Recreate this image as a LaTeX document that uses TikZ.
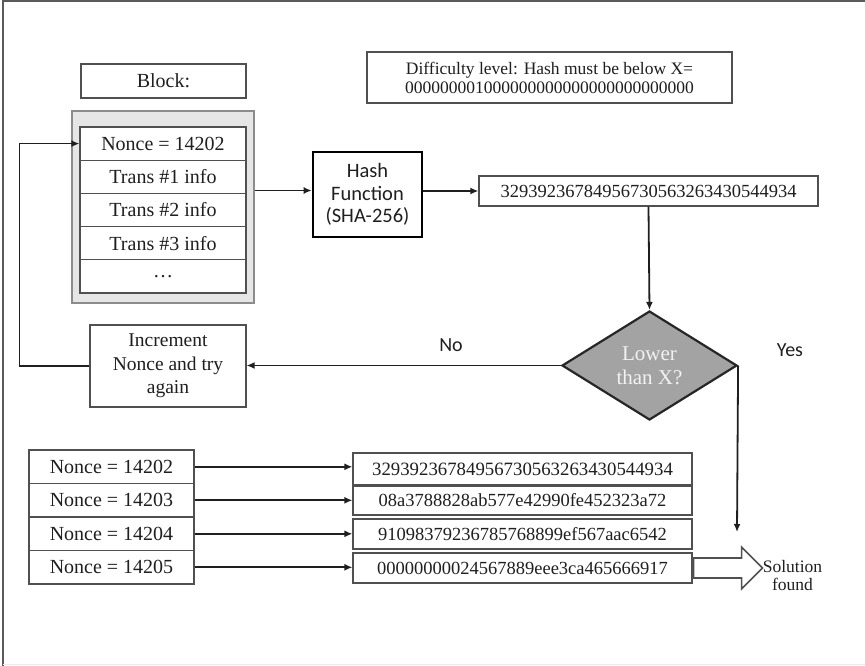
\documentclass[tikz,border=0pt]{standalone}
\usepackage{fontspec}
\setmainfont{Liberation Serif}
\newfontfamily\calibri{Carlito}
\usetikzlibrary{shapes.geometric,arrows.meta}
\definecolor{boxline}{HTML}{505050}
\definecolor{inktext}{HTML}{1F1F1F}
\definecolor{blockfill}{HTML}{E6E6E6}
\definecolor{blockline}{HTML}{8C8C8C}
\definecolor{testfill}{HTML}{A3A3A3}
\definecolor{testtext}{HTML}{F2F2F2}
\definecolor{framedark}{HTML}{5A5A5A}
\tikzset{
	box/.style={draw=boxline, line width=1.2pt, fill=white, inner sep=0pt, text=inktext},
	cell/.style={box, minimum width=166pt, minimum height=33.2pt},
	noncebox/.style={box, minimum width=165pt, minimum height=33.5pt},
	hashbox/.style={box, minimum width=339pt, minimum height=30pt, font=\fontsize{18.5pt}{22pt}\selectfont},
	flow/.style={draw=inktext, line width=1.8pt, -{Latex[length=8pt,width=7pt]}},
	note/.style={inner sep=0pt, text=inktext},
}

\begin{document}
\begin{tikzpicture}[x=1pt, y=-1pt, font=\fontsize{20pt}{24pt}\selectfont]
		\useasboundingbox (0,0) rectangle (865,666);
		\draw [draw=framedark, line width=2pt] (3,666) -- (3,1.5) -- (865,1.5);
		\draw [draw=black!8, line width=0.8pt] (3,664.5) -- (865,664.5);
		
		\node[box, minimum width=165pt, minimum height=34pt] (blocktitle) at (163.5,81) {Block:};
		\node[box, minimum width=365pt, minimum height=51pt, align=center, font=\fontsize{17.5pt}{19pt}\selectfont] (difficulty) at (549.5,77.5) {Difficulty level: Hash must be below X=\\000000001000000000000000000000000};
		
		\node[draw=blockline, line width=1.2pt, fill=blockfill, minimum width=182pt, minimum height=192pt, inner sep=0pt] (blockframe) at (163,207) {};
		\node[cell] (cell1) at (163,143.6) {Nonce = 14202};
		\node[cell] (cell2) at (163,176.8) {Trans \#1 info};
		\node[cell] (cell3) at (163,210.0) {Trans \#2 info};
		\node[cell] (cell4) at (163,243.2) {Trans \#3 info};
		\node[cell] (cell5) at (163,276.4) {\ldots};
		
		\node[box, draw=black, line width=2.6pt, minimum width=109pt, minimum height=85pt, align=center, font=\calibri\fontsize{20.5pt}{22.5pt}\selectfont] (hashfn) at (367.5,194.5) {Hash\\Function\\(SHA-256)};
		\node[hashbox] (hashout) at (648.5,191) {32939236784956730563263430544934};
		
		\node[diamond, aspect=1.6, draw=black!85, line width=2.2pt, fill=testfill, text=testtext, minimum width=175pt, minimum height=109pt, inner sep=0pt, align=center, font=\fontsize{21pt}{24pt}\selectfont] (test) at (649.5,365.5) {Lower\\than X?};
		\node[box, minimum width=156pt, minimum height=82pt, align=center, font=\fontsize{19.5pt}{23.5pt}\selectfont] (retry) at (168,366) {Increment\\Nonce and try\\again};
		\node[note, font=\calibri\fontsize{20pt}{22pt}\selectfont] (nolabel) at (451,345) {No};
		\node[note, font=\calibri\fontsize{20pt}{22pt}\selectfont] (yeslabel) at (790,350) {Yes};
		\coordinate (yesend) at (737,532);
		
		\draw [flow] ([yshift=4pt]hashfn.west -| blockframe.east) -- ([yshift=4pt]hashfn.west);
		\draw [flow] (hashfn.east |- hashout.west) -- (hashout.west);
		\draw [flow] (hashout.south) -- (test.north);
		\draw [flow] (test.west) -- (test.west -| retry.east);
		\draw [flow] (retry.west) -- ++(-70,0) |- (cell1.west);
		\draw [flow] (test.east) -- (yesend);
		
		\node[noncebox] (nonce1) at (111.5,466.8) {Nonce = 14202};
		\node[noncebox] (nonce2) at (111.5,500.3) {Nonce = 14203};
		\node[noncebox] (nonce3) at (111.5,533.8) {Nonce = 14204};
		\node[noncebox] (nonce4) at (111.5,567.3) {Nonce = 14205};
		\node[hashbox, minimum height=32pt, font=\fontsize{18.8pt}{22pt}\selectfont] (digest1) at (522.5,469) {32939236784956730563263430544934};
		\node[hashbox, minimum height=29pt] (digest2) at (522.5,500.5) {08a3788828ab577e42990fe452323a72};
		\node[hashbox] (digest3) at (522.5,534) {91098379236785768899ef567aac6542};
		\node[hashbox] (digest4) at (522.5,568) {00000000024567889eee3ca465666917};
		\draw [flow] (nonce1.east) -- (nonce1.east -| digest1.west);
		\draw [flow] (nonce2.east) -- (nonce2.east -| digest2.west);
		\draw [flow] (nonce3.east) -- (nonce3.east -| digest3.west);
		\draw [flow] (nonce4.east) -- (nonce4.east -| digest4.west);
		
		\draw [draw=boxline, line width=1.6pt, fill=white, line join=miter] (digest4.east) ++(1,-10) -- ++(48,0) -- ++(0,-11) -- ++(21,21) coordinate (foundtip) -- ++(-21,21) -- ++(0,-11) -- ++(-48,0) -- cycle;
		\node[note, anchor=west, align=center, font=\fontsize{17.5pt}{18pt}\selectfont] (solution) at ([yshift=-8pt]foundtip) {Solution\\found};
\end{tikzpicture}
\end{document}
